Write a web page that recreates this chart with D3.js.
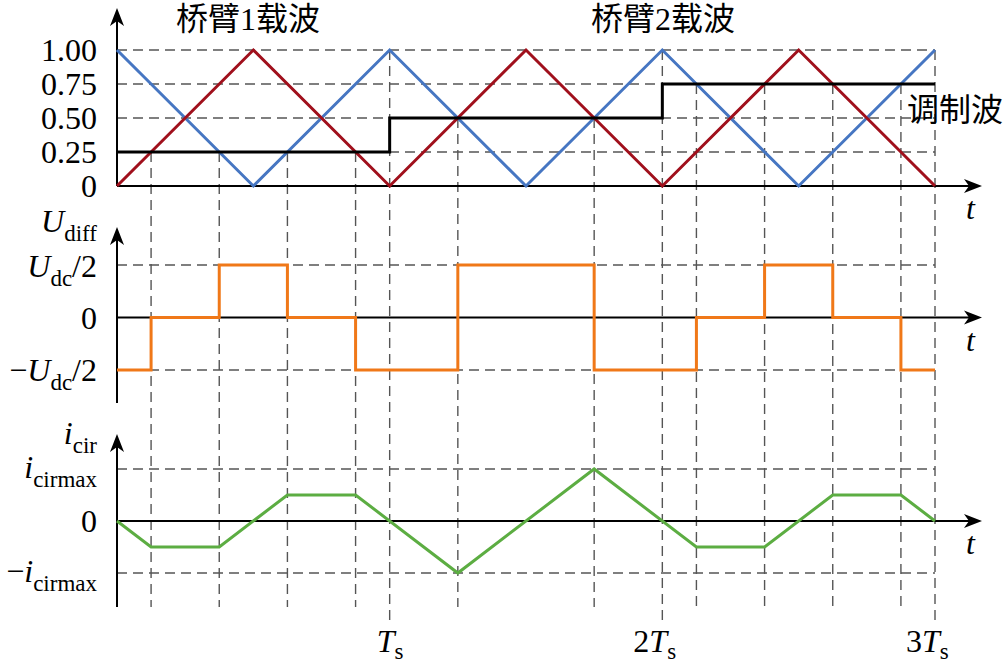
<!DOCTYPE html>
<html>
<head>
<meta charset="utf-8">
<script src="https://cdn.jsdelivr.net/npm/d3@7"></script>
<style>
  html, body { margin: 0; padding: 0; background: #fff; }
  svg { display: block; }
</style>
</head>
<body>
<div id="chart"></div>
<script>
(function () {
  'use strict';

  // ---- data ----
  const carrierT   = [0, 0.5, 1, 1.5, 2, 2.5, 3];
  const carrierA   = [1, 0, 1, 0, 1, 0, 1];        // blue
  const carrierB   = [0, 1, 0, 1, 0, 1, 0];        // red
  const modT       = [0, 1, 2, 3];
  const modV       = [0.25, 0.5, 0.75, 0.75];
  const swT        = [0, 0.125, 0.375, 0.625, 0.875, 1.25, 1.75, 2.125, 2.375, 2.625, 2.875, 3];
  const udiffV     = [-1, 0, 1, 0, -1, 1, -1, 0, 1, 0, -1, -1];
  const icirV      = [0, -0.5, -0.5, 0.5, 0.5, -1, 1, -0.5, -0.5, 0.5, 0.5, 0];
  const periodT    = [1, 2, 3];
  const topTicks   = [1, 0.75, 0.5, 0.25, 0];
  const topLabels  = ['1.00', '0.75', '0.50', '0.25', '0'];
  const periodLbl  = ['', '2', '3'];

  const COLORS = {
    blue:   '#4676C2',
    red:    '#A0101C',
    black:  '#000',
    orange: '#F07818',
    green:  '#5CAD42',
    grid:   '#555',
  };

  const W = 1008, H = 668;
  const SERIF = "'Liberation Serif', 'Times New Roman', serif";
  const CJK   = "'Liberation Serif', 'Noto Sans CJK SC', serif";

  const svg = d3.select('#chart').append('svg')
    .attr('width', W).attr('height', H)
    .attr('viewBox', `0 0 ${W} ${H}`);

  const x    = d3.scaleLinear().domain([0, 3]).range([117, 935]);
  const yTop = d3.scaleLinear().domain([0, 1]).range([186, 50]);
  const yMid = d3.scaleLinear().domain([-1, 1]).range([370, 265]);
  const yBot = d3.scaleLinear().domain([-1, 1]).range([573, 469]);
  const xEnd = 982;

  const gGrid  = svg.append('g');
  const gAxis  = svg.append('g');
  const gLines = svg.append('g');
  const gText  = svg.append('g');

  const dash = sel => sel
    .attr('stroke', COLORS.grid).attr('stroke-width', 1.4)
    .attr('stroke-dasharray', '10,6').attr('fill', 'none');

  // ---- horizontal dashed grid ----
  const hGrid = [
    ...topTicks.filter(v => v > 0).map(v => yTop(v)),
    yMid(1), yMid(-1), yBot(1), yBot(-1),
  ];
  gGrid.selectAll('line.h').data(hGrid).join('line')
    .attr('class', 'h')
    .attr('x1', x(0)).attr('x2', x(3))
    .attr('y1', d => d).attr('y2', d => d)
    .call(dash);

  // ---- vertical dashed lines at switching instants ----
  const modAt = t => modV[Math.min(Math.floor(t), modV.length - 1)];
  const swInner = swT.filter(t => t > 0 && t < 3 && periodT.indexOf(t) < 0);
  gGrid.selectAll('line.sw').data(swInner).join('line')
    .attr('class', 'sw')
    .attr('x1', d => x(d)).attr('x2', d => x(d))
    .attr('y1', d => yTop(modAt(d))).attr('y2', 607)
    .call(dash);
  gGrid.selectAll('line.per').data(periodT).join('line')
    .attr('class', 'per')
    .attr('x1', d => x(d)).attr('x2', d => x(d))
    .attr('y1', yTop(1)).attr('y2', 622)
    .call(dash);

  // ---- axes ----
  function arrowUp(px, tipY) {
    gAxis.append('path')
      .attr('d', `M${px},${tipY} L${px + 7},${tipY + 18} L${px},${tipY + 13} L${px - 7},${tipY + 18} Z`)
      .attr('fill', '#000');
  }
  function arrowRight(tipX, py) {
    gAxis.append('path')
      .attr('d', `M${tipX},${py} L${tipX - 18},${py - 7} L${tipX - 13},${py} L${tipX - 18},${py + 7} Z`)
      .attr('fill', '#000');
  }
  const axes = [
    { y0: yTop(0), top: 8,   bottom: yTop(0) },
    { y0: yMid(0), top: 227, bottom: 403 },
    { y0: yBot(0), top: 434, bottom: 607 },
  ];
  axes.forEach(a => {
    gAxis.append('line')
      .attr('x1', x(0)).attr('x2', x(0))
      .attr('y1', a.bottom).attr('y2', a.top + 10)
      .attr('stroke', '#000').attr('stroke-width', 2);
    gAxis.append('line')
      .attr('x1', x(0)).attr('x2', xEnd - 10)
      .attr('y1', a.y0).attr('y2', a.y0)
      .attr('stroke', '#000').attr('stroke-width', 2);
    arrowUp(x(0), a.top);
    arrowRight(xEnd, a.y0);
    gText.append('text')
      .attr('x', 966).attr('y', a.y0 + 33)
      .attr('font-family', SERIF).attr('font-style', 'italic')
      .attr('font-size', 32).text('t');
  });

  // ---- series ----
  const line = (ys, curve) => d3.line()
    .x(d => x(d.t)).y(d => ys(d.v))
    .curve(curve || d3.curveLinear);
  const zip = (ts, vs) => ts.map((t, i) => ({ t, v: vs[i] }));

  gLines.append('path')
    .attr('d', line(yTop)(zip(carrierT, carrierA)))
    .attr('fill', 'none').attr('stroke', COLORS.blue).attr('stroke-width', 3);
  gLines.append('path')
    .attr('d', line(yTop)(zip(carrierT, carrierB)))
    .attr('fill', 'none').attr('stroke', COLORS.red).attr('stroke-width', 3);
  gLines.append('path')
    .attr('d', line(yTop, d3.curveStepAfter)(zip(modT, modV)))
    .attr('fill', 'none').attr('stroke', COLORS.black).attr('stroke-width', 3);
  gLines.append('path')
    .attr('d', line(yMid, d3.curveStepAfter)(zip(swT, udiffV)))
    .attr('fill', 'none').attr('stroke', COLORS.orange).attr('stroke-width', 3);
  gLines.append('path')
    .attr('d', line(yBot)(zip(swT, icirV)))
    .attr('fill', 'none').attr('stroke', COLORS.green).attr('stroke-width', 3);

  // ---- labels ----
  const LX = 97;
  gText.selectAll('text.tt').data(topTicks).join('text')
    .attr('class', 'tt')
    .attr('x', LX).attr('y', d => yTop(d) + 11)
    .attr('text-anchor', 'end')
    .attr('font-family', SERIF).attr('font-size', 32)
    .text((d, i) => topLabels[i]);

  // label with italic main + roman subscript + tail
  function subLabel(px, py, main, sub, tail, opts) {
    opts = opts || {};
    const t = gText.append('text')
      .attr('x', px).attr('y', py)
      .attr('text-anchor', opts.anchor || 'end')
      .attr('font-family', SERIF).attr('font-size', 32);
    if (opts.minus) t.append('tspan').text('\u2212');
    if (opts.pre) t.append('tspan').text(opts.pre);
    t.append('tspan').attr('font-style', 'italic').text(main);
    t.append('tspan').attr('font-size', 23).attr('dy', opts.subDy || 9).text(sub);
    if (tail) t.append('tspan').attr('dy', -9).text(tail);
    return t;
  }

  subLabel(LX, 232, 'U', 'diff');
  subLabel(LX, 277, 'U', 'dc', '/2');
  gText.append('text').attr('x', LX).attr('y', yMid(0) + 11)
    .attr('text-anchor', 'end').attr('font-family', SERIF).attr('font-size', 32).text('0');
  subLabel(LX, 381, 'U', 'dc', '/2', { minus: true });

  subLabel(LX, 444, 'i', 'cir');
  subLabel(LX, 478, 'i', 'cirmax');
  gText.append('text').attr('x', LX).attr('y', yBot(0) + 11)
    .attr('text-anchor', 'end').attr('font-family', SERIF).attr('font-size', 32).text('0');
  subLabel(LX, 582, 'i', 'cirmax', null, { minus: true });

  periodT.forEach((p, i) => {
    subLabel(x(p) - 13 - (periodLbl[i] ? 16 : 0), 652, 'T', 's', null,
      { anchor: 'start', pre: periodLbl[i], subDy: 7 });
  });

  const cjk = (px, py, s, anchor) => gText.append('text')
    .attr('x', px).attr('y', py)
    .attr('text-anchor', anchor || 'start')
    .attr('dominant-baseline', 'central')
    .attr('font-family', CJK).attr('font-size', 32).text(s);
  cjk(176, 19, '桥臂1载波');
  cjk(735, 19, '桥臂2载波', 'end');
  cjk(907, 110, '调制波');
})();
</script>
</body>
</html>
